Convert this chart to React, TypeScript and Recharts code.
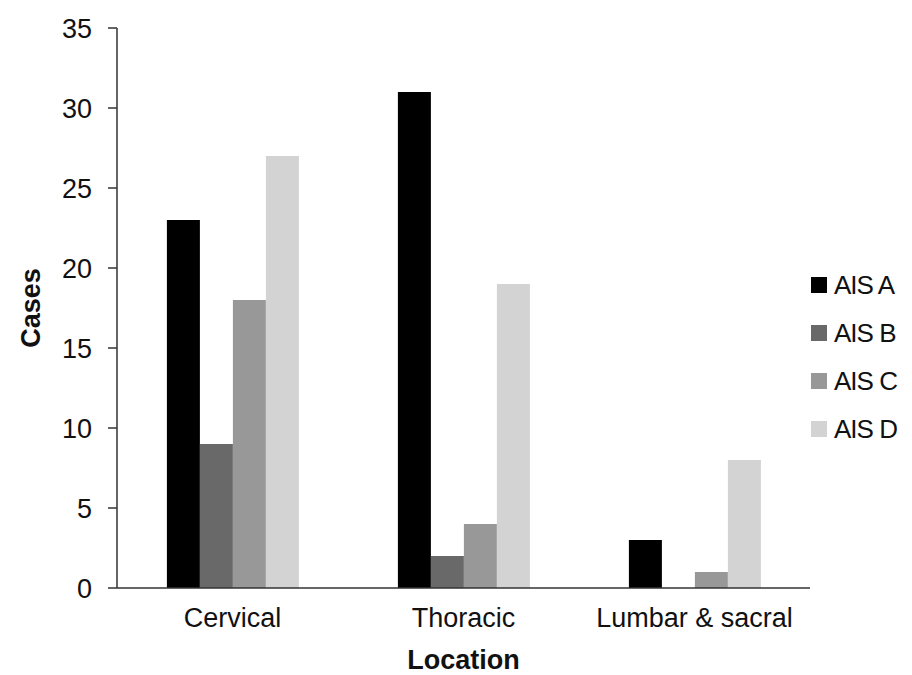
import { BarChart, Bar, XAxis, YAxis, Legend } from "recharts";

const locations = ["Cervical", "Thoracic", "Lumbar & sacral"];
const aisA = [23, 31, 3];
const aisB = [9, 2, 0];
const aisC = [18, 4, 1];
const aisD = [27, 19, 8];
const yTicks = [0, 5, 10, 15, 20, 25, 30, 35];

const seriesNames = ["AIS A", "AIS B", "AIS C", "AIS D"];
const seriesColors = ["#000000", "#696969", "#989898", "#d3d3d3"];

const data = locations.map((name, i) => ({
  name,
  a: aisA[i],
  b: aisB[i],
  c: aisC[i],
  d: aisD[i],
}));

const font = "'Liberation Sans', Arial, sans-serif";

function LegendBox(props: any) {
  const items = props.payload || [];
  return (
    <div style={{ fontFamily: font, fontSize: 26, color: "#111" }}>
      {items.map((p: any) => (
        <div
          key={p.value}
          style={{ height: 48, display: "flex", alignItems: "center" }}
        >
          <span
            style={{
              width: 16,
              height: 16,
              background: p.color,
              display: "inline-block",
              marginRight: 7,
            }}
          />
          <span style={{ letterSpacing: -1 }}>{p.value}</span>
        </div>
      ))}
    </div>
  );
}

export default function App() {
  return (
    <BarChart
      width={904}
      height={667}
      data={data}
      margin={{ top: 20, right: 2, bottom: 0, left: 29 }}
      barCategoryGap="21.6%"
      barGap={0}
    >
      <XAxis
        dataKey="name"
        height={87}
        tickLine={false}
        tickSize={0}
        tickMargin={20}
        axisLine={{ stroke: "#333", strokeWidth: 1.5 }}
        tick={{ fontSize: 27, fill: "#111", fontFamily: font }}
        label={{
          value: "Location",
          position: "insideBottom",
          offset: 6,
          fontSize: 27,
          fontWeight: "bold",
          fill: "#111",
          fontFamily: font,
        }}
      />
      <YAxis
        width={80}
        domain={[0, 35]}
        ticks={yTicks}
        interval={0}
        tickSize={9}
        tickMargin={16}
        axisLine={{ stroke: "#333", strokeWidth: 1.5 }}
        tickLine={{ stroke: "#333", strokeWidth: 1.5 }}
        tick={{ fontSize: 27, fill: "#111", fontFamily: font }}
        label={{
          value: "Cases",
          angle: -90,
          position: "center",
          dx: -47,
          fontSize: 27,
          fontWeight: "bold",
          fill: "#111",
          fontFamily: font,
        }}
      />
      <Legend
        layout="vertical"
        align="right"
        verticalAlign="middle"
        content={LegendBox}
        wrapperStyle={{ width: 100, left: 803, top: 253 }}
      />
      {["a", "b", "c", "d"].map((k, i) => (
        <Bar
          key={k}
          dataKey={k}
          name={seriesNames[i]}
          fill={seriesColors[i]}
          isAnimationActive={false}
        />
      ))}
    </BarChart>
  );
}
